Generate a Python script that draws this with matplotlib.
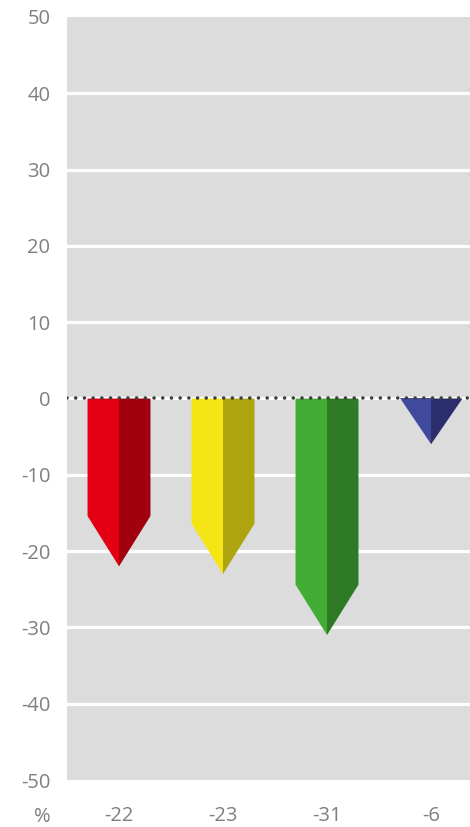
import matplotlib
matplotlib.use("Agg")
import matplotlib.pyplot as plt
from matplotlib.patches import Polygon

values = [-22, -23, -31, -6]
value_labels = ["-22", "-23", "-31", "-6"]
light_colors = ["#E30013", "#F5E514", "#43AC35", "#3F4A9C"]
dark_colors = ["#A1000F", "#ADA40F", "#2E7A25", "#2B2E6C"]
yticks = [-50, -40, -30, -20, -10, 0, 10, 20, 30, 40, 50]

plt.rcParams['font.family'] = ['Open Sans', 'DejaVu Sans']

fig = plt.figure(figsize=(4.70, 8.27), dpi=100)
ax = fig.add_axes([67/470, 47/827, 416/470, 763/827])
ax.set_facecolor("#DCDCDC")
ax.set_xlim(-0.5, len(values) - 0.5)
ax.set_ylim(-50, 50)

for y in yticks:
    if -50 < y < 50:
        ax.axhline(y, color="white", lw=2.3, zorder=1)

bw = 0.605
head = 6.6
for i, v in enumerate(values):
    h = min(head, abs(v))
    sh = v + h  # shoulder (v negative)
    left = [(i - bw/2, 0), (i, 0), (i, v), (i - bw/2, sh)]
    right = [(i, 0), (i + bw/2, 0), (i + bw/2, sh), (i, v)]
    ax.add_patch(Polygon(left, closed=True, facecolor=light_colors[i], edgecolor="none", zorder=2))
    ax.add_patch(Polygon(right, closed=True, facecolor=dark_colors[i], edgecolor="none", zorder=2))

ax.axhline(0, color="#404040", lw=2.6, linestyle=(0, (0.01, 2.4)),
           dash_capstyle="round", zorder=3)

for s in ax.spines.values():
    s.set_visible(False)
ax.set_yticks(yticks)
ax.set_yticklabels([str(t) for t in yticks])
ax.tick_params(axis="y", length=0, pad=12, labelsize=14.5, labelcolor="#7F7F7F")
ax.set_xticks(range(len(values)))
ax.set_xticklabels(value_labels)
ax.tick_params(axis="x", length=0, pad=19, labelsize=14.5, labelcolor="#7F7F7F")

fig.text(51/470, 1 - 817/827, "%", ha="right", va="center", fontsize=14.5, color="#7F7F7F")

fig.savefig("out.png", dpi=100)
